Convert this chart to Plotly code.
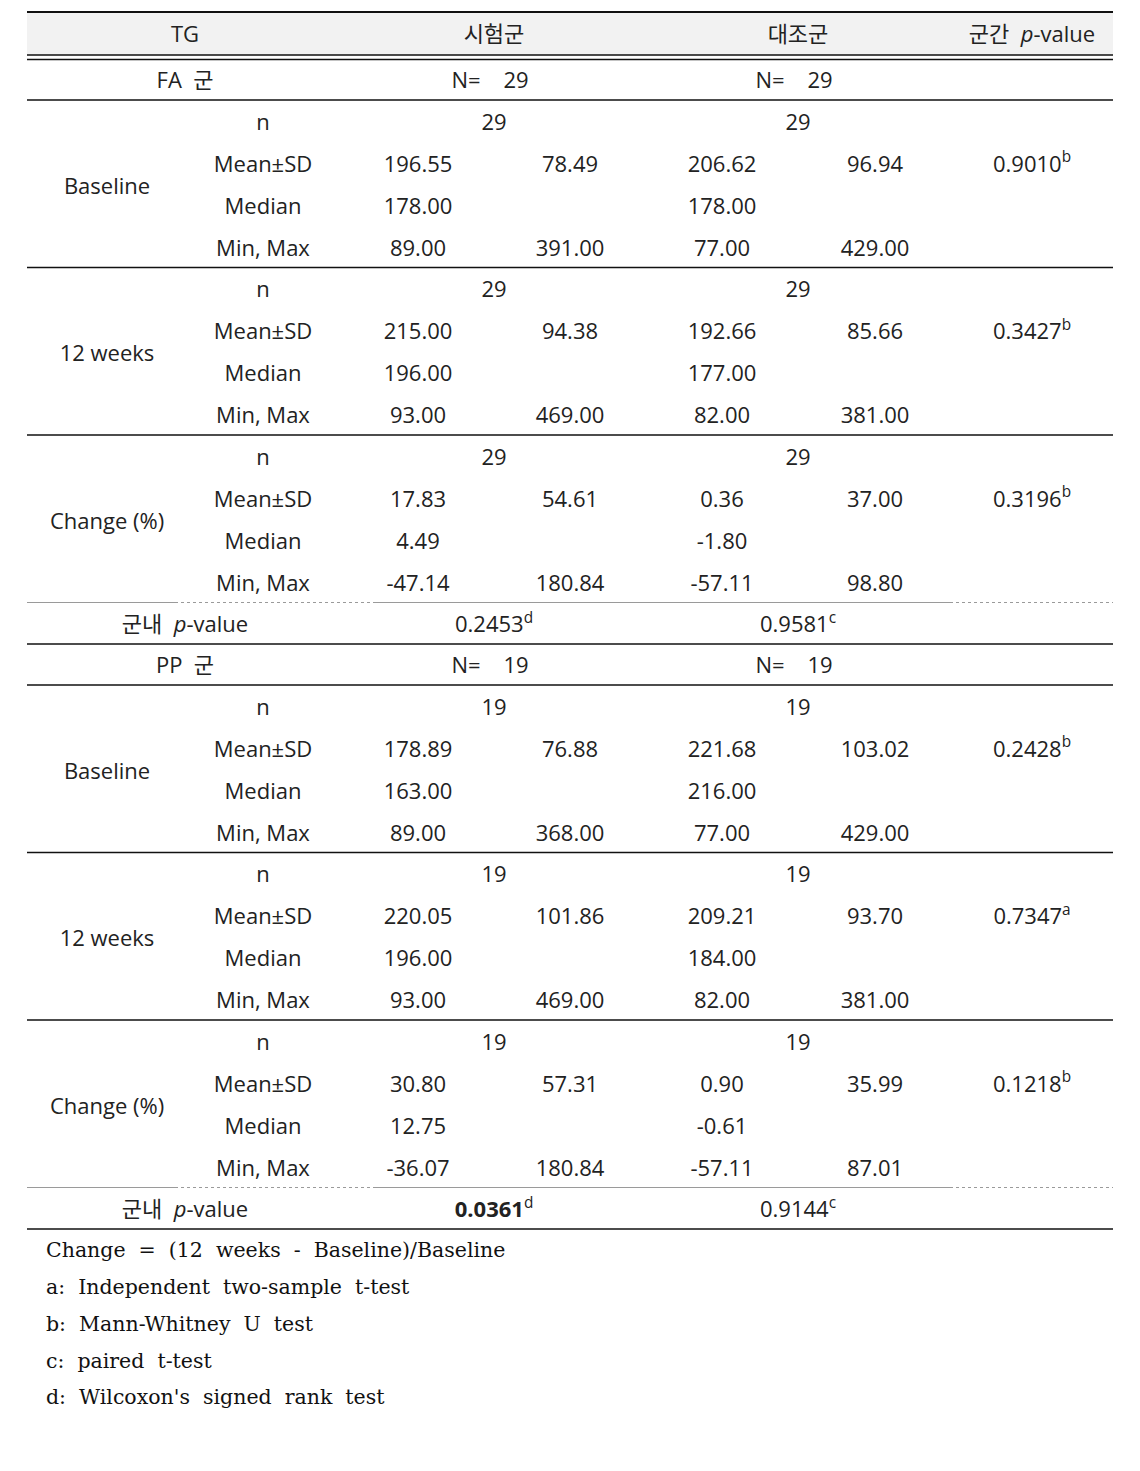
import plotly.graph_objects as go

# ---- data ----
header = ["TG", "시험군", "대조군", "군간  <i>p</i>-value"]
stat_labels = ["n", "Mean±SD", "Median", "Min, Max"]
periods = ["Baseline", "12 weeks", "Change (%)"]
groups = ["FA  군", "PP  군"]
group_n = [29, 19]

# per period: n, mean, sd, median, min, max
fa_exp = [[29, 196.55, 78.49, 178.00, 89.00, 391.00],
          [29, 215.00, 94.38, 196.00, 93.00, 469.00],
          [29, 17.83, 54.61, 4.49, -47.14, 180.84]]
fa_ctl = [[29, 206.62, 96.94, 178.00, 77.00, 429.00],
          [29, 192.66, 85.66, 177.00, 82.00, 381.00],
          [29, 0.36, 37.00, -1.80, -57.11, 98.80]]
pp_exp = [[19, 178.89, 76.88, 163.00, 89.00, 368.00],
          [19, 220.05, 101.86, 196.00, 93.00, 469.00],
          [19, 30.80, 57.31, 12.75, -36.07, 180.84]]
pp_ctl = [[19, 221.68, 103.02, 216.00, 77.00, 429.00],
          [19, 209.21, 93.70, 184.00, 82.00, 381.00],
          [19, 0.90, 35.99, -0.61, -57.11, 87.01]]

fa_between_p = ["0.9010", "0.3427", "0.3196"]
fa_between_sup = ["b", "b", "b"]
pp_between_p = ["0.2428", "0.7347", "0.1218"]
pp_between_sup = ["b", "a", "b"]

fa_within_p = ["0.2453", "0.9581"]
fa_within_sup = ["d", "c"]
pp_within_p = ["0.0361", "0.9144"]
pp_within_sup = ["d", "c"]
pp_within_bold = [True, False]

footnotes = ["Change  =  (12  weeks  -  Baseline)/Baseline",
             "a:  Independent  two-sample  t-test",
             "b:  Mann-Whitney  U  test",
             "c:  paired  t-test",
             "d:  Wilcoxon's  signed  rank  test"]

# ---- layout constants ----
W, H = 1140, 1471
PAD = 8  # page body margin
X0, X1 = 27, 1113
COL_TG, COL_PERIOD, COL_STAT = 185, 107, 263
COL_EXP, COL_EXP1, COL_EXP2 = 494, 418, 570
COL_CTL, COL_CTL1, COL_CTL2 = 798, 722, 875
COL_P = 1032
ROW_H = 42
BLOCK_H = 167.5
GROUP_TOPS = [59, 644]
DY = 2  # text baseline nudge

FONT = "Open Sans, Noto Sans CJK KR, sans-serif"
TXT = "#222222"

xs, ys, ts = [], [], []


def put(x, y, t):
    xs.append(x)
    ys.append(y + DY)
    ts.append(t)


def fmt(v):
    return f"{v:.2f}"


shapes = []


def hline(y, x0=X0, x1=X1, w=1.5, color="#111111", dash="solid"):
    shapes.append(dict(type="line", xref="x", yref="y", x0=x0, x1=x1, y0=y, y1=y,
                       line=dict(color=color, width=w, dash=dash)))


# header
shapes.append(dict(type="rect", xref="x", yref="y", x0=X0, x1=X1, y0=12, y1=55,
                   fillcolor="#f2f2f2", line=dict(width=0), layer="below"))
hline(12, w=2)
hline(55, w=1.5)
hline(59.5, w=1.5)
for x, t in zip([COL_TG, COL_EXP, COL_CTL, COL_P], header):
    put(x, 34, t)

group_data = [(fa_exp, fa_ctl, fa_between_p, fa_between_sup, fa_within_p, fa_within_sup, [False, False]),
              (pp_exp, pp_ctl, pp_between_p, pp_between_sup, pp_within_p, pp_within_sup, pp_within_bold)]

for g, top in enumerate(GROUP_TOPS):
    exp, ctl, bp, bsup, wp, wsup, wbold = group_data[g]
    put(COL_TG, top + 21, groups[g])
    put(490, top + 21, f"N=    {group_n[g]}")
    put(794, top + 21, f"N=    {group_n[g]}")
    hline(top + 41)
    for b in range(3):
        btop = top + 41 + b * BLOCK_H
        put(COL_PERIOD, btop + 86, periods[b])
        for k, lab in enumerate(stat_labels):
            put(COL_STAT, btop + 22 + k * ROW_H, lab)
        e, c = exp[b], ctl[b]
        put(COL_EXP, btop + 22, str(e[0]))
        put(COL_CTL, btop + 22, str(c[0]))
        r1, r2, r3 = btop + 22 + ROW_H, btop + 22 + 2 * ROW_H, btop + 22 + 3 * ROW_H
        put(COL_EXP1, r1, fmt(e[1])); put(COL_EXP2, r1, fmt(e[2]))
        put(COL_CTL1, r1, fmt(c[1])); put(COL_CTL2, r1, fmt(c[2]))
        put(COL_EXP1, r2, fmt(e[3])); put(COL_CTL1, r2, fmt(c[3]))
        put(COL_EXP1, r3, fmt(e[4])); put(COL_EXP2, r3, fmt(e[5]))
        put(COL_CTL1, r3, fmt(c[4])); put(COL_CTL2, r3, fmt(c[5]))
        put(COL_P, btop + 22 + ROW_H, f"{bp[b]}<sup>{bsup[b]}</sup>")
        if b < 2:
            hline(btop + BLOCK_H)
    dy = top + 41 + 3 * BLOCK_H
    hline(dy, X0, 175, w=1, color="#9a9a9a")
    hline(dy, 175, 375, w=1, color="#9a9a9a", dash="dot")
    hline(dy, 375, 950, w=1, color="#9a9a9a")
    hline(dy, 950, X1, w=1, color="#9a9a9a", dash="dot")
    put(COL_TG, dy + 22, "군내  <i>p</i>-value")
    for x, p, s, bo in zip([COL_EXP, COL_CTL], wp, wsup, wbold):
        t = f"<b>{p}</b><sup>{s}</sup>" if bo else f"{p}<sup>{s}</sup>"
        put(x, dy + 22, t)
    hline(dy + 41.5)

fig = go.Figure()
fig.add_trace(go.Scatter(x=xs, y=ys, text=ts, mode="text", textposition="middle center",
                         textfont=dict(family=FONT, size=22, color=TXT), hoverinfo="skip"))

fn_y = [1252 + k * 36.8 for k in range(len(footnotes))]
fig.add_trace(go.Scatter(x=[46] * len(footnotes), y=fn_y, text=footnotes, mode="text",
                         textposition="middle right",
                         textfont=dict(family="DejaVu Serif, Liberation Serif, serif", size=20.5, color="#111111"),
                         hoverinfo="skip"))

fig.update_layout(
    width=W - PAD, height=H - PAD,
    margin=dict(l=0, r=0, t=0, b=0),
    plot_bgcolor="white", paper_bgcolor="white",
    showlegend=False,
    shapes=shapes,
    xaxis=dict(range=[PAD, W], visible=False, fixedrange=True),
    yaxis=dict(range=[H, PAD], visible=False, fixedrange=True),
)
fig.write_html("out.html")
